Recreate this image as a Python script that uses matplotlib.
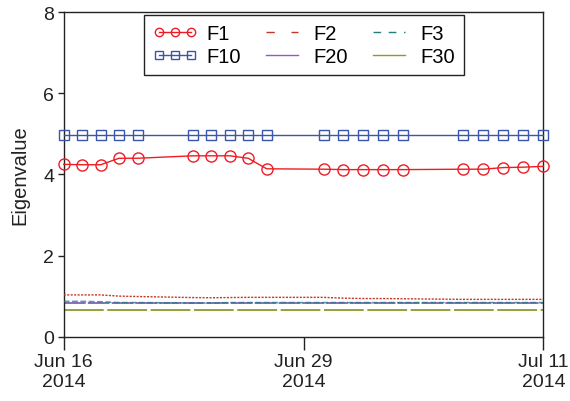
import numpy as np
import matplotlib
matplotlib.use("Agg")
import matplotlib.pyplot as plt
import matplotlib.dates as mdates
from matplotlib.lines import Line2D
from matplotlib.ticker import FixedLocator, FixedFormatter

# Trading days (weekends are skipped)
dates = ["2014-06-16", "2014-06-17", "2014-06-18", "2014-06-19", "2014-06-20",
         "2014-06-23", "2014-06-24", "2014-06-25", "2014-06-26", "2014-06-27",
         "2014-06-30", "2014-07-01", "2014-07-02", "2014-07-03", "2014-07-04",
         "2014-07-07", "2014-07-08", "2014-07-09", "2014-07-10", "2014-07-11"]

f1 = [4.25, 4.24, 4.24, 4.40, 4.40,
      4.46, 4.46, 4.46, 4.40, 4.14,
      4.13, 4.12, 4.12, 4.12, 4.12,
      4.13, 4.13, 4.17, 4.18, 4.20]
f2 = [1.03, 1.03, 1.03, 1.00, 0.99,
      0.965, 0.96, 0.965, 0.97, 0.97,
      0.97, 0.95, 0.94, 0.94, 0.935,
      0.92, 0.92, 0.92, 0.92, 0.92]
f3 = [0.87, 0.87, 0.86, 0.84, 0.84,
      0.83, 0.83, 0.84, 0.84, 0.84,
      0.84, 0.84, 0.84, 0.84, 0.84,
      0.84, 0.84, 0.84, 0.84, 0.84]
f10 = [4.97, 4.97, 4.97, 4.97, 4.97,
       4.97, 4.97, 4.97, 4.97, 4.97,
       4.97, 4.97, 4.97, 4.97, 4.97,
       4.97, 4.97, 4.97, 4.97, 4.97]
f20 = [0.84, 0.84, 0.84, 0.84, 0.84,
       0.84, 0.84, 0.84, 0.84, 0.84,
       0.84, 0.84, 0.84, 0.84, 0.84,
       0.84, 0.84, 0.84, 0.84, 0.84]
f30 = [0.67, 0.67, 0.67, 0.67, 0.67,
       0.67, 0.67, 0.67, 0.67, 0.67,
       0.67, 0.67, 0.67, 0.67, 0.67,
       0.67, 0.67, 0.67, 0.67, 0.67]

tick_dates = ["2014-06-16", "2014-06-29", "2014-07-11"]
tick_labels = ["Jun 16\n2014", "Jun 29\n2014", "Jul 11\n2014"]
y_ticks = [0, 2, 4, 6, 8]

plt.rcParams["font.family"] = ["Liberation Sans", "DejaVu Sans"]
plt.rcParams["font.size"] = 14

x = mdates.datestr2num(dates)
a0, a1, a2 = mdates.datestr2num(tick_dates)


# Date axis with evenly spaced labelled ticks (piecewise linear between them)
def fwd(v):
    v = np.asarray(v, float)
    return np.where(v <= a1, (v - a0) / (a1 - a0), 1 + (v - a1) / (a2 - a1))


def inv(u):
    u = np.asarray(u, float)
    return np.where(u <= 1, a0 + u * (a1 - a0), a1 + (u - 1) * (a2 - a1))


c_f1 = "#ee1c25"
c_f10 = "#3a56a8"
c_f2 = "#c0392b"
c_f3 = "#1e7f7c"
c_f20 = "#8c5cc0"
c_f30 = "#8a9a2e"

fig = plt.figure(figsize=(5.7, 4.02), dpi=100)
ax = fig.add_axes([0.1118, 0.16, 0.8414, 0.807])
ax.set_xscale("function", functions=(fwd, inv))

ax.plot(x, f30, color=c_f30, lw=1.3, dashes=(22, 2), zorder=2)
ax.plot(x, f20, color=c_f20, lw=1.3, dashes=(12, 1.2), zorder=2)
ax.plot(x, f3, color=c_f3, lw=1.2, dashes=(3.5, 1.5), alpha=0.75, zorder=3)
ax.plot(x, f2, color=c_f2, lw=1.0, dashes=(1.5, 1.0), zorder=3)
ax.plot(x, f10, color=c_f10, lw=1.0, marker="s", ms=7.2, mfc="none",
        mec=c_f10, mew=1.0, clip_on=False, zorder=4)
ax.plot(x, f1, color=c_f1, lw=1.0, marker="o", ms=8, mfc="none",
        mec=c_f1, mew=1.0, clip_on=False, zorder=4)

ax.set_xlim(a0, a2)
ax.set_ylim(0, 8)
ax.xaxis.set_major_locator(FixedLocator([a0, a1, a2]))
ax.xaxis.set_major_formatter(FixedFormatter(tick_labels))
ax.xaxis.set_minor_locator(FixedLocator([]))
ax.set_yticks(y_ticks)
ax.set_ylabel("Eigenvalue", labelpad=10, color="#222222", fontsize=14.5)

for s in ax.spines.values():
    s.set_linewidth(1.0)
    s.set_color("#222222")
ax.tick_params(axis="x", direction="out", length=9, width=1.0, pad=3,
               colors="#222222")
ax.tick_params(axis="y", direction="out", length=4, width=1.0, pad=3,
               colors="#222222")

handles = [
    Line2D([], [], color=c_f1, lw=1.0, marker="o", ms=6, mfc="none", mew=1.0),
    Line2D([], [], color=c_f10, lw=1.0, marker="s", ms=6, mfc="none", mew=1.0),
    Line2D([], [], color=c_f2, lw=1.0, dashes=(6, 12)),
    Line2D([], [], color=c_f20, lw=1.0),
    Line2D([], [], color=c_f3, lw=1.0, dashes=(5.5, 5.5)),
    Line2D([], [], color=c_f30, lw=1.0),
]
labels = ["F1", "F10", "F2", "F20", "F3", "F30"]
leg = ax.legend(handles, labels, ncol=3, loc="upper left",
                bbox_to_anchor=(0.167, 0.993), borderaxespad=0,
                numpoints=3, handlelength=2.2, handletextpad=0.45,
                columnspacing=0.95, labelspacing=0.2, borderpad=0.45,
                fancybox=False, framealpha=1, edgecolor="#222222",
                fontsize=14.5)
leg.get_frame().set_linewidth(1.0)

fig.savefig("out.png", dpi=100)
